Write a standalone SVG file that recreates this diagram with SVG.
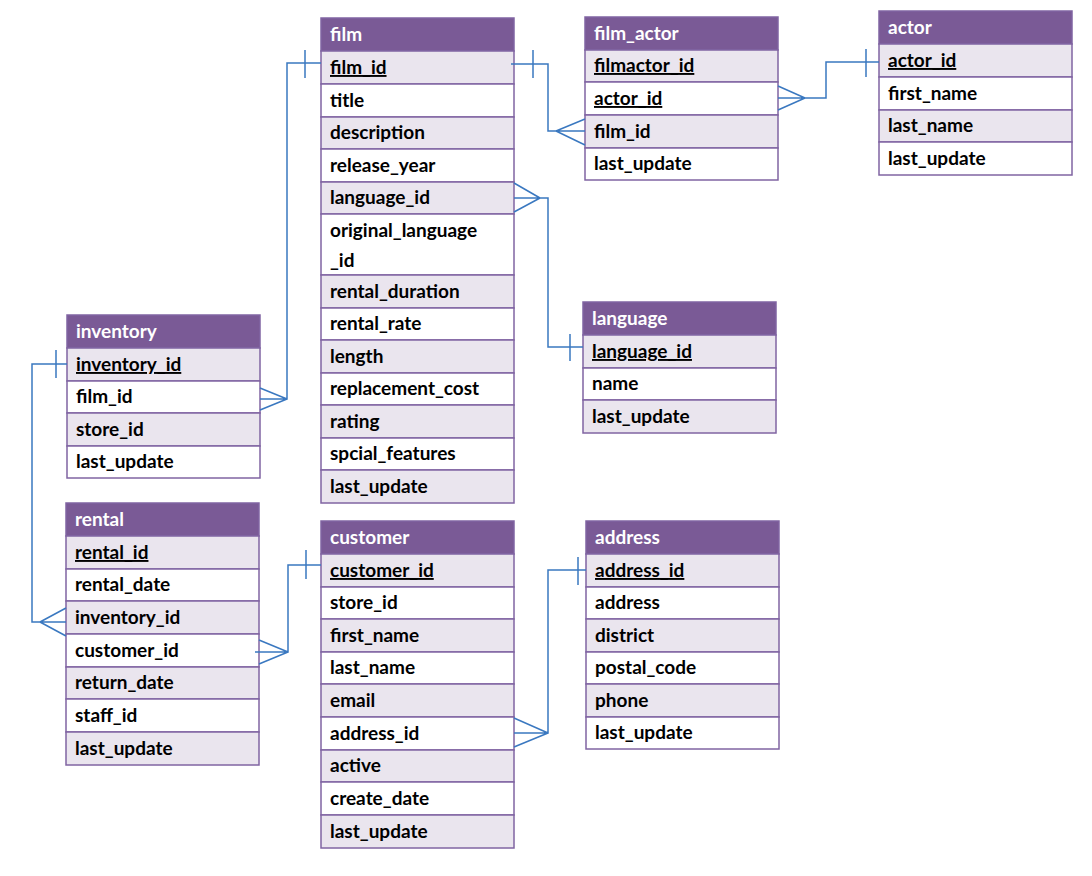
<svg xmlns="http://www.w3.org/2000/svg" width="1092" height="876" viewBox="0 0 1092 876">
<style>
.h{fill:#7A5A96;stroke:#8064A2;stroke-width:1.5}
.s{fill:#EAE5EE;stroke:#8064A2;stroke-width:1.5}
.w{fill:#FFFFFF;stroke:#8064A2;stroke-width:1.5}
text{font-family:Lato,"Open Sans","Liberation Sans",sans-serif;font-weight:bold;font-size:19px;fill:#000}
.ht{fill:#fff}
.k{text-decoration:underline}
.c{fill:none;stroke:#3A78C0;stroke-width:1.5}
</style>
<rect width="1092" height="876" fill="#fff"/>
<g id="film">
<rect class="h" x="321" y="18" width="193" height="33"/><text class="ht" x="330" y="41">film</text>
<rect class="s" x="321" y="51" width="193" height="33"/><text class="k" x="330" y="74">film_id</text>
<rect class="w" x="321" y="84" width="193" height="33"/><text x="330" y="107">title</text>
<rect class="s" x="321" y="117" width="193" height="32"/><text x="330" y="139">description</text>
<rect class="w" x="321" y="149" width="193" height="33"/><text x="330" y="172">release_year</text>
<rect class="s" x="321" y="182" width="193" height="32"/><text x="330" y="204">language_id</text>
<rect class="w" x="321" y="214" width="193" height="61"/><text x="330" y="237">original_language</text><text x="330" y="267">_id</text>
<rect class="s" x="321" y="275" width="193" height="33"/><text x="330" y="298">rental_duration</text>
<rect class="w" x="321" y="308" width="193" height="32"/><text x="330" y="330">rental_rate</text>
<rect class="s" x="321" y="340" width="193" height="33"/><text x="330" y="363">length</text>
<rect class="w" x="321" y="373" width="193" height="32"/><text x="330" y="395">replacement_cost</text>
<rect class="s" x="321" y="405" width="193" height="33"/><text x="330" y="428">rating</text>
<rect class="w" x="321" y="438" width="193" height="32"/><text x="330" y="460">spcial_features</text>
<rect class="s" x="321" y="470" width="193" height="33"/><text x="330" y="493">last_update</text>
</g>
<g id="film_actor">
<rect class="h" x="585" y="17" width="193" height="33"/><text class="ht" x="594" y="40">film_actor</text>
<rect class="s" x="585" y="50" width="193" height="32"/><text class="k" x="594" y="72">filmactor_id</text>
<rect class="w" x="585" y="82" width="193" height="33"/><text class="k" x="594" y="105">actor_id</text>
<rect class="s" x="585" y="115" width="193" height="33"/><text x="594" y="138">film_id</text>
<rect class="w" x="585" y="148" width="193" height="32"/><text x="594" y="170">last_update</text>
</g>
<g id="actor">
<rect class="h" x="879" y="11" width="193" height="33"/><text class="ht" x="888" y="34">actor</text>
<rect class="s" x="879" y="44" width="193" height="33"/><text class="k" x="888" y="67">actor_id</text>
<rect class="w" x="879" y="77" width="193" height="33"/><text x="888" y="100">first_name</text>
<rect class="s" x="879" y="110" width="193" height="32"/><text x="888" y="132">last_name</text>
<rect class="w" x="879" y="142" width="193" height="33"/><text x="888" y="165">last_update</text>
</g>
<g id="language">
<rect class="h" x="583" y="302" width="193" height="33"/><text class="ht" x="592" y="325">language</text>
<rect class="s" x="583" y="335" width="193" height="33"/><text class="k" x="592" y="358">language_id</text>
<rect class="w" x="583" y="368" width="193" height="32"/><text x="592" y="390">name</text>
<rect class="s" x="583" y="400" width="193" height="33"/><text x="592" y="423">last_update</text>
</g>
<g id="inventory">
<rect class="h" x="67" y="315" width="193" height="33"/><text class="ht" x="76" y="338">inventory</text>
<rect class="s" x="67" y="348" width="193" height="33"/><text class="k" x="76" y="371">inventory_id</text>
<rect class="w" x="67" y="381" width="193" height="32"/><text x="76" y="403">film_id</text>
<rect class="s" x="67" y="413" width="193" height="33"/><text x="76" y="436">store_id</text>
<rect class="w" x="67" y="446" width="193" height="32"/><text x="76" y="468">last_update</text>
</g>
<g id="rental">
<rect class="h" x="66" y="503" width="193" height="33"/><text class="ht" x="75" y="526">rental</text>
<rect class="s" x="66" y="536" width="193" height="33"/><text class="k" x="75" y="559">rental_id</text>
<rect class="w" x="66" y="569" width="193" height="32"/><text x="75" y="591">rental_date</text>
<rect class="s" x="66" y="601" width="193" height="33"/><text x="75" y="624">inventory_id</text>
<rect class="w" x="66" y="634" width="193" height="33"/><text x="75" y="657">customer_id</text>
<rect class="s" x="66" y="667" width="193" height="32"/><text x="75" y="689">return_date</text>
<rect class="w" x="66" y="699" width="193" height="33"/><text x="75" y="722">staff_id</text>
<rect class="s" x="66" y="732" width="193" height="33"/><text x="75" y="755">last_update</text>
</g>
<g id="customer">
<rect class="h" x="321" y="521" width="193" height="33"/><text class="ht" x="330" y="544">customer</text>
<rect class="s" x="321" y="554" width="193" height="33"/><text class="k" x="330" y="577">customer_id</text>
<rect class="w" x="321" y="587" width="193" height="32"/><text x="330" y="609">store_id</text>
<rect class="s" x="321" y="619" width="193" height="33"/><text x="330" y="642">first_name</text>
<rect class="w" x="321" y="652" width="193" height="32"/><text x="330" y="674">last_name</text>
<rect class="s" x="321" y="684" width="193" height="33"/><text x="330" y="707">email</text>
<rect class="w" x="321" y="717" width="193" height="33"/><text x="330" y="740">address_id</text>
<rect class="s" x="321" y="750" width="193" height="32"/><text x="330" y="772">active</text>
<rect class="w" x="321" y="782" width="193" height="33"/><text x="330" y="805">create_date</text>
<rect class="s" x="321" y="815" width="193" height="33"/><text x="330" y="838">last_update</text>
</g>
<g id="address">
<rect class="h" x="586" y="521" width="193" height="33"/><text class="ht" x="595" y="544">address</text>
<rect class="s" x="586" y="554" width="193" height="33"/><text class="k" x="595" y="577">address_id</text>
<rect class="w" x="586" y="587" width="193" height="32"/><text x="595" y="609">address</text>
<rect class="s" x="586" y="619" width="193" height="33"/><text x="595" y="642">district</text>
<rect class="w" x="586" y="652" width="193" height="32"/><text x="595" y="674">postal_code</text>
<rect class="s" x="586" y="684" width="193" height="33"/><text x="595" y="707">phone</text>
<rect class="w" x="586" y="717" width="193" height="32"/><text x="595" y="739">last_update</text>
</g>
<g id="connectors">
<path class="c" d="M67 364H32V622H66M56 350V378M40 622L66 608M40 622L66 636"/>
<path class="c" d="M260 399H287V63H321M305 50V78M287 399L260 388M287 399L260 410"/>
<path class="c" d="M511 64H548V131H585M533 50V78M556 131L585 119M556 131L585 145"/>
<path class="c" d="M778 98H826V62H879M866 49V77M805 98L778 86M805 98L778 110"/>
<path class="c" d="M514 198H548V347H583M570 334V361M540 198L514 183M540 198L514 212"/>
<path class="c" d="M255 652H288V565H321M306 550V579M288 652L259 640M288 652L259 664"/>
<path class="c" d="M514 733H548V570H586M578 557V585M548 733L514 718M548 733L514 747"/>
</g>
</svg>
